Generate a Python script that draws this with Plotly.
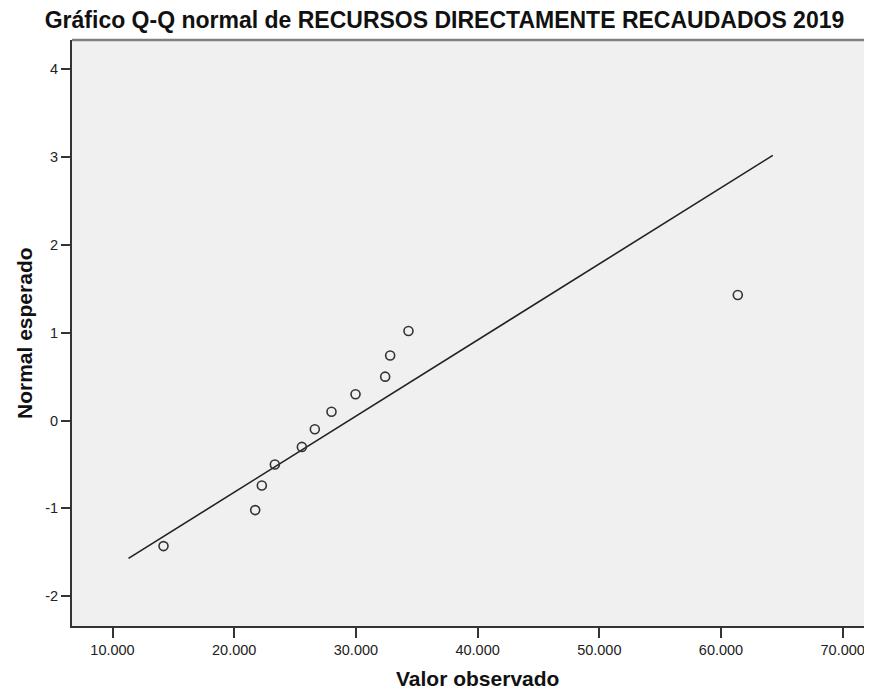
import plotly.graph_objects as go

# Observed values (sorted) and expected normal quantiles
observed = [14191, 21725, 22270, 23340, 25560, 26625, 27995, 29970, 32405, 32815, 34320, 61380]
expected = [-1.43, -1.02, -0.74, -0.50, -0.30, -0.10, 0.10, 0.30, 0.50, 0.74, 1.02, 1.43]

# Reference line endpoints
line_x = [11315, 64257]
line_y = [-1.57, 3.02]

x_tickvals = [10000, 20000, 30000, 40000, 50000, 60000, 70000]
x_ticktext = ["10.000", "20.000", "30.000", "40.000", "50.000", "60.000", "70.000"]
y_tickvals = [-2, -1, 0, 1, 2, 3, 4]
y_ticktext = ["-2", "-1", "0", "1", "2", "3", "4"]

# the page body adds an 8px offset, so the figure is sized to fit the window
OFF = 8
W, H = 872 - OFF, 691 - OFF
L, T, R = 72 - OFF, 40 - OFF, 0
B = H - (626 - OFF)
PW, PH = W - L - R, H - T - B

fig = go.Figure()
fig.add_trace(go.Scatter(
    x=line_x, y=line_y, mode="lines",
    line=dict(color="#222222", width=1.6),
    hoverinfo="skip", showlegend=False))
fig.add_trace(go.Scatter(
    x=observed, y=expected, mode="markers",
    marker=dict(symbol="circle-open", size=9, color="#333333",
                line=dict(width=1.6, color="#333333")),
    showlegend=False))

font_family = "Liberation Sans, Arial, sans-serif"

fig.update_layout(
    width=W, height=H,
    margin=dict(l=L, r=R, t=T, b=B),
    paper_bgcolor="white",
    plot_bgcolor="#F0F0F0",
    font=dict(family=font_family, color="#222222"),
    title=dict(
        text="<b>Gráfico Q-Q normal de RECURSOS DIRECTAMENTE RECAUDADOS 2019</b>",
        x=(444.5 - OFF) / W, xanchor="center", xref="container",
        y=1 - (20 - OFF) / H, yanchor="middle", yref="container",
        font=dict(size=23, color="#111111", family=font_family)),
    xaxis=dict(
        range=[6672, 72408], showgrid=False, zeroline=False,
        tickmode="array", tickvals=x_tickvals, ticktext=x_ticktext,
        ticks="outside", ticklen=10, tickwidth=2, tickcolor="#333333",
        showline=True, linecolor="#333333", linewidth=2,
        tickfont=dict(size=14.5, color="#222222")),
    yaxis=dict(
        range=[-2.34, 4.334], showgrid=False, zeroline=False,
        tickmode="array", tickvals=y_tickvals, ticktext=y_ticktext,
        ticks="outside", ticklen=9, tickwidth=2, tickcolor="#333333",
        showline=True, linecolor="#333333", linewidth=2,
        tickfont=dict(size=14.5, color="#222222")),
    annotations=[
        dict(text="<b>Valor observado</b>", xref="paper", yref="paper",
             x=(477.5 - OFF - L) / PW, y=(H - B - (678 - OFF)) / PH,
             xanchor="center", yanchor="middle", showarrow=False,
             font=dict(size=21, color="#111111", family=font_family)),
        dict(text="<b>Normal esperado</b>", xref="paper", yref="paper",
             x=(24 - OFF - L) / PW, y=(H - B - (333 - OFF)) / PH,
             xanchor="center", yanchor="middle", textangle=-90, showarrow=False,
             font=dict(size=21, color="#111111", family=font_family)),
    ],
    shapes=[
        dict(type="line", xref="paper", yref="paper", x0=0, x1=1, y0=1, y1=1,
             line=dict(color="#808080", width=2.5)),
    ],
)

fig.write_html("out.html")
